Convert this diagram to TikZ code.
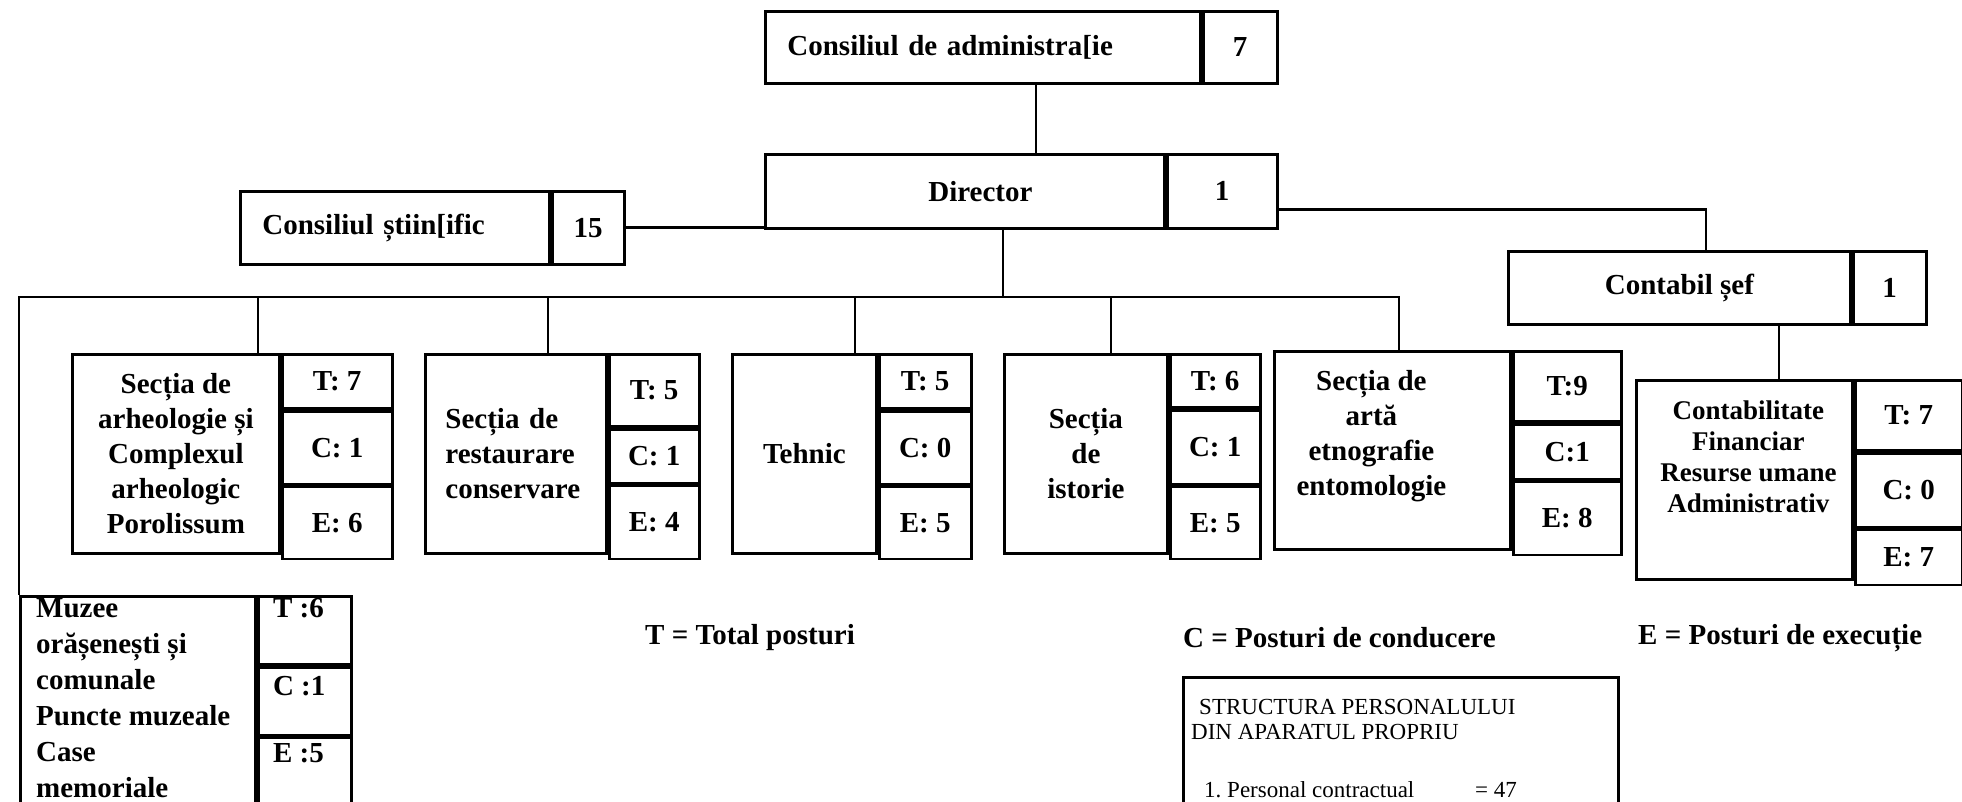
\documentclass[tikz,border=0pt]{standalone}
\usepackage{fontspec}
\setmainfont{Liberation Serif}
\usetikzlibrary{positioning,calc}

\begin{document}
\begin{tikzpicture}[x=1pt,y=-1pt,
	cell/.style={draw, line width=2.8pt, inner sep=0pt, anchor=north west, align=center,
		font=\bfseries\fontsize{29}{35}\selectfont},
	txt/.style={inner sep=0pt, align=center, font=\bfseries\fontsize{29}{35}\selectfont},
	legend/.style={inner sep=0pt, anchor=west, font=\bfseries\fontsize{29}{35}\selectfont},
	plain/.style={inner sep=0pt, font=\fontsize{23}{25}\selectfont},
	wire/.style={line width=2.8pt}]
		\useasboundingbox (0,0) rectangle (1962,802);
		\clip (0,0) rectangle (1962,802);
		
		%top boxes
		\node[cell, minimum height=72, text width=391, inner xsep=22, align=left] (ca) at (764,10) {Consiliul de administra[ie};
		\node[cell, minimum width=74, minimum height=72] (ca7) at (ca.north east) {7};
		\node[cell, minimum width=399, minimum height=74] (dir) at (764,153) {\hspace*{31pt}Director};
		\node[cell, minimum width=110, minimum height=74] (dir1) at (dir.north east) {1};
		\node[cell, minimum height=73, text width=265, inner xsep=22, align=left] (cs) at (239,190) {Consiliul știin[ific};
		\node[cell, minimum width=72, minimum height=73] (cs15) at (cs.north east) {15};
		\node[cell, minimum width=342, minimum height=73] (csef) at (1507,250) {Contabil șef};
		\node[cell, minimum width=73, minimum height=73] (csef1) at (csef.north east) {1};
		
		%sections
		\node[cell, minimum width=207, minimum height=199] (arh) at (71,353) {Secția de\\arheologie și\\Complexul\\arheologic\\Porolissum};
		\node[cell, minimum width=110, minimum height=54] (arhT) at (arh.north east) {T: 7};
		\node[cell, minimum width=110, minimum height=73] (arhC) at (arhT.south west) {C: 1};
		\node[cell, minimum width=110, minimum height=72] (arhE) at (arhC.south west) {E: 6};
		
		\node[cell, minimum height=199, text width=141, inner xsep=20, align=left] (rest) at (424,353) {Secția de\\restaurare\\conservare};
		\node[cell, minimum width=90, minimum height=72] (restT) at (rest.north east) {T: 5};
		\node[cell, minimum width=90, minimum height=54] (restC) at (restT.south west) {C: 1};
		\node[cell, minimum width=90, minimum height=73] (restE) at (restC.south west) {E: 4};
		
		\node[cell, minimum width=144, minimum height=199] (teh) at (731,353) {Tehnic};
		\node[cell, minimum width=92, minimum height=54] (tehT) at (teh.north east) {T: 5};
		\node[cell, minimum width=92, minimum height=73] (tehC) at (tehT.south west) {C: 0};
		\node[cell, minimum width=92, minimum height=72] (tehE) at (tehC.south west) {E: 5};
		
		\node[cell, minimum width=163, minimum height=199] (ist) at (1003,353) {Secția\\de\\istorie};
		\node[cell, minimum width=90, minimum height=53] (istT) at (ist.north east) {T: 6};
		\node[cell, minimum width=90, minimum height=74] (istC) at (istT.south west) {C: 1};
		\node[cell, minimum width=90, minimum height=72] (istE) at (istC.south west) {E: 5};
		
		\node[cell, minimum width=236, minimum height=198] (arta) at (1273,350) {};
		\node[txt] (artaTxt) at ([shift={(-21,-14)}]arta.center) {Secția de\\artă\\etnografie\\entomologie};
		\node[cell, minimum width=108, minimum height=70] (artaT) at (arta.north east) {T:9};
		\node[cell, minimum width=108, minimum height=55] (artaC) at (artaT.south west) {C:1};
		\node[cell, minimum width=108, minimum height=73] (artaE) at (artaC.south west) {E: 8};
		
		\node[cell, minimum width=216, minimum height=199] (cont) at (1635,379) {};
		\node[txt, font=\bfseries\fontsize{27}{31}\selectfont] (contTxt) at ([shift={(4,-23)}]cont.center) {Contabilitate\\Financiar\\Resurse umane\\Administrativ};
		\node[cell, minimum width=107, minimum height=70] (contT) at (cont.north east) {T: 7};
		\node[cell, minimum width=107, minimum height=74] (contC) at (contT.south west) {C: 0};
		\node[cell, minimum width=107, minimum height=55] (contE) at (contC.south west) {E: 7};
		
		%muzee (cut at the bottom)
		\node[cell, minimum width=235, minimum height=240] (muz) at (19,595) {};
		\node[txt, anchor=north west, align=left, font=\bfseries\fontsize{29}{36}\selectfont] (muzTxt) at ([shift={(17,3)}]muz.north west) {Muzee\\orășenești și\\comunale\\Puncte muzeale\\Case\\memoriale};
		\node[cell, minimum width=93, minimum height=68] (muzT) at (muz.north east) {};
		\node[cell, minimum width=93, minimum height=68] (muzC) at (muzT.south west) {};
		\node[cell, minimum width=93, minimum height=104] (muzE) at (muzC.south west) {};
		\node[txt, anchor=north west] at ([shift={(16,3)}]muzT.north west) {T :6};
		\node[txt, anchor=north west] at ([shift={(16,10)}]muzC.north west) {C :1};
		\node[txt, anchor=north west] at ([shift={(16,7)}]muzE.north west) {E :5};
		
		%lines
		\coordinate (busL) at (19,297);
		\draw[wire] ([xshift=272pt]ca.south west) -- ([xshift=272pt]dir.north west);
		\draw[wire] (cs15.east) -- (cs15.east -| dir.west);
		\draw[wire] ([yshift=-18pt]dir1.east) -| ([xshift=199pt]csef.north west);
		\draw[wire] ([xshift=272pt]csef.south west) -- ([xshift=144pt]cont.north west);
		\draw[wire] ([xshift=239pt]dir.south west) |- (busL) -- (muz.north west);
		\foreach \n/\dx in {arh/187, rest/124, teh/124, ist/108, arta/126}
			\draw[wire] ([xshift=\dx pt]\n.north west) |- (busL);
		
		%legend
		\node[legend] (lgT) at (645,638) {T = Total posturi};
		\node[legend] (lgC) at (1183,638) {C = Posturi de conducere};
		\node[legend] (lgE) at (1638,638) {E = Posturi de execuție};
		
		%structura
		\node[draw, line width=2.6pt, anchor=north west, minimum width=435, minimum height=170, inner sep=0pt] (str) at (1182,676) {};
		\node[plain, anchor=north west, align=left] (strHead) at (1191,699) {\hspace*{8pt}STRUCTURA PERSONALULUI\\DIN APARATUL PROPRIU};
		\node[plain, anchor=west] (strLine) at (1204,790) {\makebox[271pt][l]{1.\ Personal contractual}= 47};
\end{tikzpicture}
\end{document}
